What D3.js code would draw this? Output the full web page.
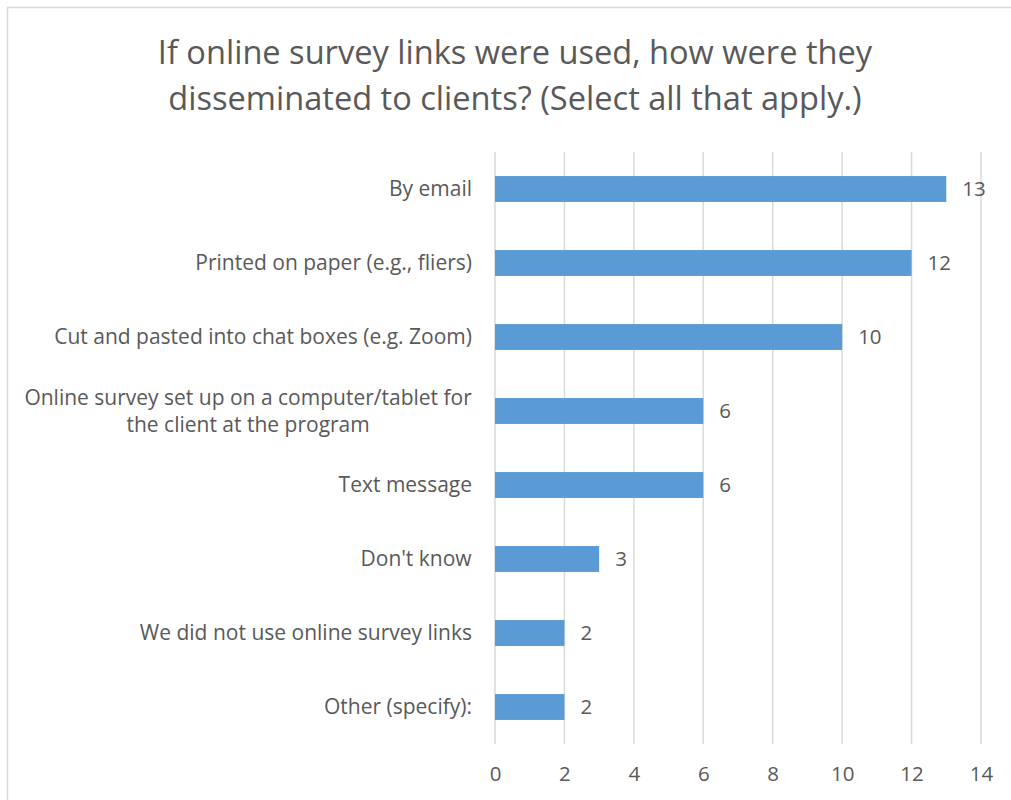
<!DOCTYPE html>
<html>
<head>
<meta charset="utf-8">
<script src="https://cdn.jsdelivr.net/npm/d3@7"></script>
<style>
  html, body { margin: 0; padding: 0; background: #fff; }
  svg { display: block; font-family: "Open Sans", sans-serif; }
</style>
</head>
<body>
<svg id="chart" width="1011" height="800"></svg>
<script>
// Survey responses: how online survey links were shared with clients
const categories = [
  "By email",
  "Printed on paper (e.g., fliers)",
  "Cut and pasted into chat boxes (e.g. Zoom)",
  "Online survey set up on a computer/tablet for|the client at the program",
  "Text message",
  "Don't know",
  "We did not use online survey links",
  "Other (specify):"
];
const counts = [13, 12, 10, 6, 6, 3, 2, 2];
const xTicks = [0, 2, 4, 6, 8, 10, 12, 14];
const titleLines = [
  "If online survey links were used, how were they",
  "disseminated to clients? (Select all that apply.)"
];

const svg = d3.select("#chart");
const W = 1011, H = 800;
const textColor = "#595959";

// outer chart frame
svg.append("rect")
  .attr("x", 7.5).attr("y", 7.5)
  .attr("width", W + 10).attr("height", H + 10)
  .attr("fill", "#fff").attr("stroke", "#d9d9d9").attr("stroke-width", 1.5);

const plot = { left: 495, right: 981, top: 152, bottom: 744 };

const x = d3.scaleLinear().domain([0, 14]).range([plot.left, plot.right]);
const y = d3.scaleBand().domain(categories).range([plot.top, plot.bottom]).paddingInner(0.65).paddingOuter(0.325);

// title
svg.append("g").selectAll("text")
  .data(titleLines)
  .join("text")
  .attr("x", 515)
  .attr("y", (d, i) => 64 + i * 46)
  .attr("text-anchor", "middle")
  .attr("font-size", 32.6)
  .attr("fill", textColor)
  .text(d => d);

// vertical gridlines
svg.append("g").selectAll("line")
  .data(xTicks)
  .join("line")
  .attr("x1", d => x(d)).attr("x2", d => x(d))
  .attr("y1", plot.top).attr("y2", plot.bottom)
  .attr("stroke", "#d9d9d9").attr("stroke-width", 1.5);

// x axis labels
const xAxis = d3.axisBottom(x).tickValues(xTicks).tickSize(0).tickPadding(0);
const gx = svg.append("g")
  .attr("transform", `translate(0, ${plot.bottom + 37})`)
  .call(xAxis);
gx.select(".domain").remove();
gx.selectAll("text")
  .attr("font-family", "Open Sans, sans-serif")
  .attr("font-size", 20.5)
  .attr("fill", textColor)
  .attr("dy", "0");

// bars
svg.append("g").selectAll("rect")
  .data(counts)
  .join("rect")
  .attr("x", x(0))
  .attr("y", (d, i) => y(categories[i]))
  .attr("width", d => x(d) - x(0))
  .attr("height", y.bandwidth())
  .attr("fill", "#5b9bd5");

// value labels
svg.append("g").selectAll("text")
  .data(counts)
  .join("text")
  .attr("x", d => x(d) + 16)
  .attr("y", (d, i) => y(categories[i]) + y.bandwidth() / 2)
  .attr("dy", "0.35em")
  .attr("font-size", 20.5)
  .attr("fill", textColor)
  .text(d => d);

// category labels (right aligned, "|" marks a line break)
const catG = svg.append("g");
categories.forEach(c => {
  const lines = c.split("|");
  const cy = y(c) + y.bandwidth() / 2;
  const lh = 27;
  const t = catG.append("text")
    .attr("text-anchor", "middle")
    .attr("font-size", 21)
    .attr("fill", textColor);
  lines.forEach((ln, i) => {
    t.append("tspan")
      .attr("x", 0)
      .attr("y", cy + (i - (lines.length - 1) / 2) * lh)
      .attr("dy", "0.35em")
      .text(ln);
  });
  // centre multi-line labels on each other, right edge at the axis gutter
  const bb = t.node().getBBox();
  t.attr("transform", `translate(${472 - bb.width / 2}, 0)`);
});
</script>
</body>
</html>
